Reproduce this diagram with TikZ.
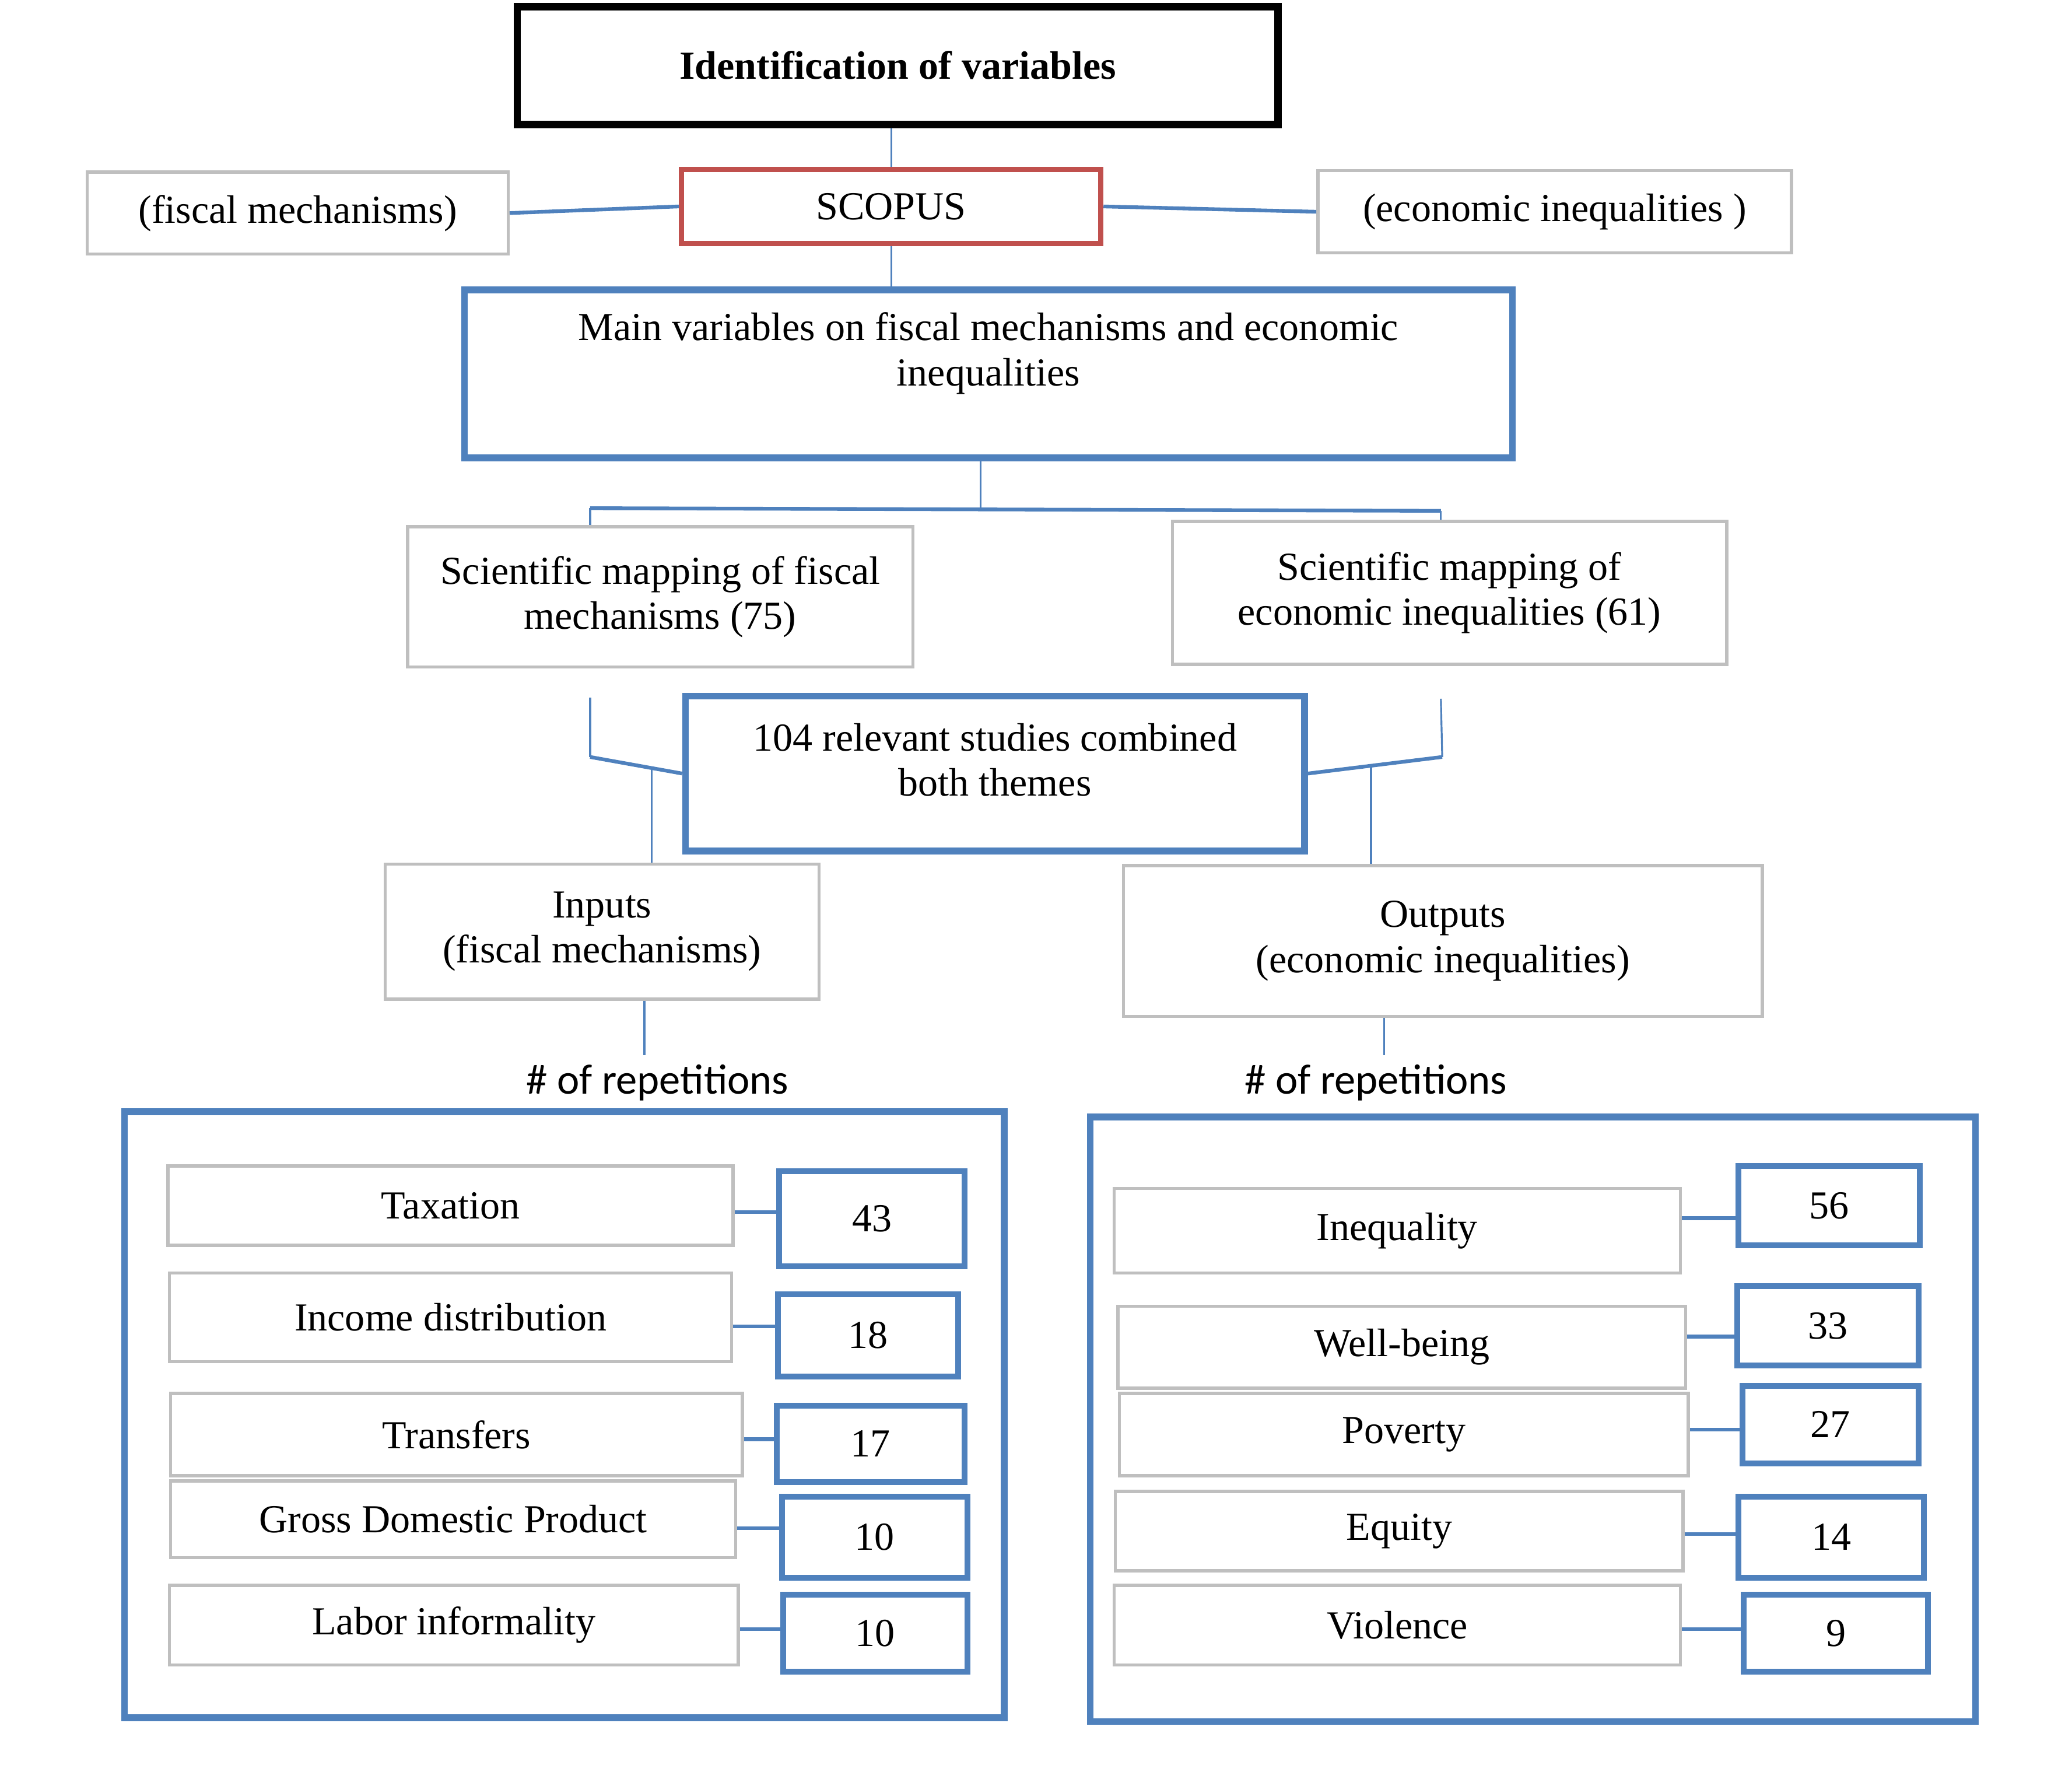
\documentclass[tikz,border=0pt]{standalone}
\usepackage{fontspec}
\setmainfont{Liberation Serif}
\newfontfamily\repfont{Carlito}
\usetikzlibrary{calc}
\definecolor{boxblue}{HTML}{4F81BD}
\definecolor{boxred}{HTML}{C0504D}
\definecolor{boxgray}{HTML}{BFBFBF}
\tikzset{
  base/.style={inner sep=0pt, align=center, font=\fontsize{15}{17}\selectfont},
  titlebox/.style={base, draw=black, line width=2.8pt, font=\bfseries\fontsize{15}{17}\selectfont},
  redbox/.style={base, draw=boxred, line width=2pt},
  bluebox/.style={base, draw=boxblue, line width=2.5pt},
  numbox/.style={base, draw=boxblue, line width=2.2pt},
  graybox/.style={base, draw=boxgray, line width=1.2pt},
  thinline/.style={draw=boxblue, line width=0.7pt},
  medline/.style={draw=boxblue, line width=1.4pt},
  reptext/.style={font=\repfont\fontsize{16}{19}\selectfont},
}
% box from its two corners: style, name, x1, y1, x2, y2, text
\newcommand{\myBox}[7]{
\node[#1, minimum width={(#5-#3)*0.5pt}, minimum height={(#6-#4)*0.5pt}] (#2) at ({(#3+#5)/2},{(#4+#6)/2}) {#7};
}
% short link between a label box and its number box
\newcommand{\myLink}[1]{
\coordinate (#1m) at ($(#1.east)!0.5!(#1n.west)$);
\draw[medline] (#1.east |- #1m) -- (#1n.west |- #1m);
}

\begin{document}
\begin{tikzpicture}[x=0.5pt, y=-0.5pt]
\useasboundingbox (0,0) rectangle (1566,1344);
% top part
\myBox{titlebox}{title}{391}{5}{966}{94}{Identification of variables}
\myBox{redbox}{scopus}{515}{128}{832}{184}{SCOPUS}
\myBox{graybox}{fiscal}{66}{130}{384}{192}{(fiscal mechanisms)}
\myBox{graybox}{econ}{996}{129}{1354}{191}{(economic inequalities )}
\myBox{bluebox}{main}{351}{219}{1143}{346}{}
\node[base] (maintxt) at (747,267) {Main variables on fiscal mechanisms and economic\\inequalities};
\draw[thinline] (scopus.north |- title.south) -- (scopus.north);
\draw[medline] (fiscal.east) -- (scopus.west);
\draw[medline] (scopus.east) -- (econ.west);
\draw[thinline] (scopus.south) -- (scopus.south |- main.north);
% scientific mapping
\myBox{graybox}{sciL}{308}{398}{690}{504}{Scientific mapping of fiscal\\mechanisms (75)}
\myBox{graybox}{sciR}{886}{394}{1305}{502}{Scientific mapping of\\economic inequalities (61)}
\coordinate (split) at (741,385);
\coordinate (brL) at (446,384);
\coordinate (brR) at (1089,386);
\draw[thinline] (split |- main.south) -- (split);
\draw[medline] (brL) -- (brR);
\draw[thinline] (brL) -- (brL |- sciL.north);
\draw[thinline] (brR) -- (brR |- sciR.north);
% combined studies
\myBox{bluebox}{rel}{518}{526}{986}{643}{}
\node[base] (reltxt) at (752,574) {104 relevant studies combined\\both themes};
\myBox{graybox}{inputs}{291}{653}{619}{755}{Inputs\\(fiscal mechanisms)}
\myBox{graybox}{outputs}{849}{654}{1332}{768}{Outputs\\(economic inequalities)}
\coordinate (tL) at (446,527);
\coordinate (jL) at (446,572);
\coordinate (tR) at (1089,528);
\coordinate (jR) at (1090,572);
\draw[thinline] (tL) -- (jL);
\draw[medline] (jL) -- (rel.west);
\coordinate (kL) at ($(jL)!0.67!(rel.west)$);
\draw[thinline] (kL) -- (kL |- inputs.north);
\draw[thinline] (tR) -- (jR);
\draw[medline] (jR) -- (rel.east);
\coordinate (kR) at ($(jR)!0.53!(rel.east)$);
\draw[thinline] (kR) -- (kR |- outputs.north);
% repetitions
\node[reptext] (repL) at (497,818) {\# of repetitions};
\node[reptext] (repR) at (1040,818) {\# of repetitions};
\draw[thinline] ([xshift=-5pt]repL.north |- inputs.south) -- ([xshift=-5pt]repL.north);
\draw[thinline] ([xshift=3pt]repR.north |- outputs.south) -- ([xshift=3pt]repR.north);
\myBox{bluebox}{panelL}{94}{840}{759}{1298}{}
\myBox{bluebox}{panelR}{824}{844}{1493}{1301}{}
% inputs
\myBox{graybox}{tax}{127}{881}{554}{941}{Taxation}
\myBox{numbox}{taxn}{589}{885}{729}{957}{43}
\myBox{graybox}{inc}{128}{962}{553}{1029}{Income distribution}
\myBox{numbox}{incn}{588}{978}{724}{1040}{18}
\myBox{graybox}{tra}{129}{1053}{561}{1115}{Transfers}
\myBox{numbox}{tran}{587}{1062}{729}{1120}{17}
\myBox{graybox}{gdp}{129}{1119}{556}{1177}{Gross Domestic Product}
\myBox{numbox}{gdpn}{591}{1131}{731}{1192}{10}
\myBox{graybox}{lab}{128}{1198}{558}{1258}{Labor informality}
\myBox{numbox}{labn}{592}{1205}{731}{1263}{10}
\myLink{tax} \myLink{inc} \myLink{tra} \myLink{gdp} \myLink{lab}
% outputs
\myBox{graybox}{ineq}{842}{898}{1270}{962}{Inequality}
\myBox{numbox}{ineqn}{1314}{881}{1451}{941}{56}
\myBox{graybox}{well}{845}{987}{1274}{1049}{Well-being}
\myBox{numbox}{welln}{1313}{972}{1450}{1032}{33}
\myBox{graybox}{pov}{846}{1053}{1276}{1115}{Poverty}
\myBox{numbox}{povn}{1317}{1047}{1450}{1106}{27}
\myBox{graybox}{equ}{843}{1127}{1272}{1187}{Equity}
\myBox{numbox}{equn}{1314}{1131}{1454}{1192}{14}
\myBox{graybox}{vio}{842}{1198}{1270}{1258}{Violence}
\myBox{numbox}{vion}{1318}{1205}{1457}{1263}{9}
\myLink{ineq} \myLink{well} \myLink{pov} \myLink{equ} \myLink{vio}
\end{tikzpicture}
\end{document}
